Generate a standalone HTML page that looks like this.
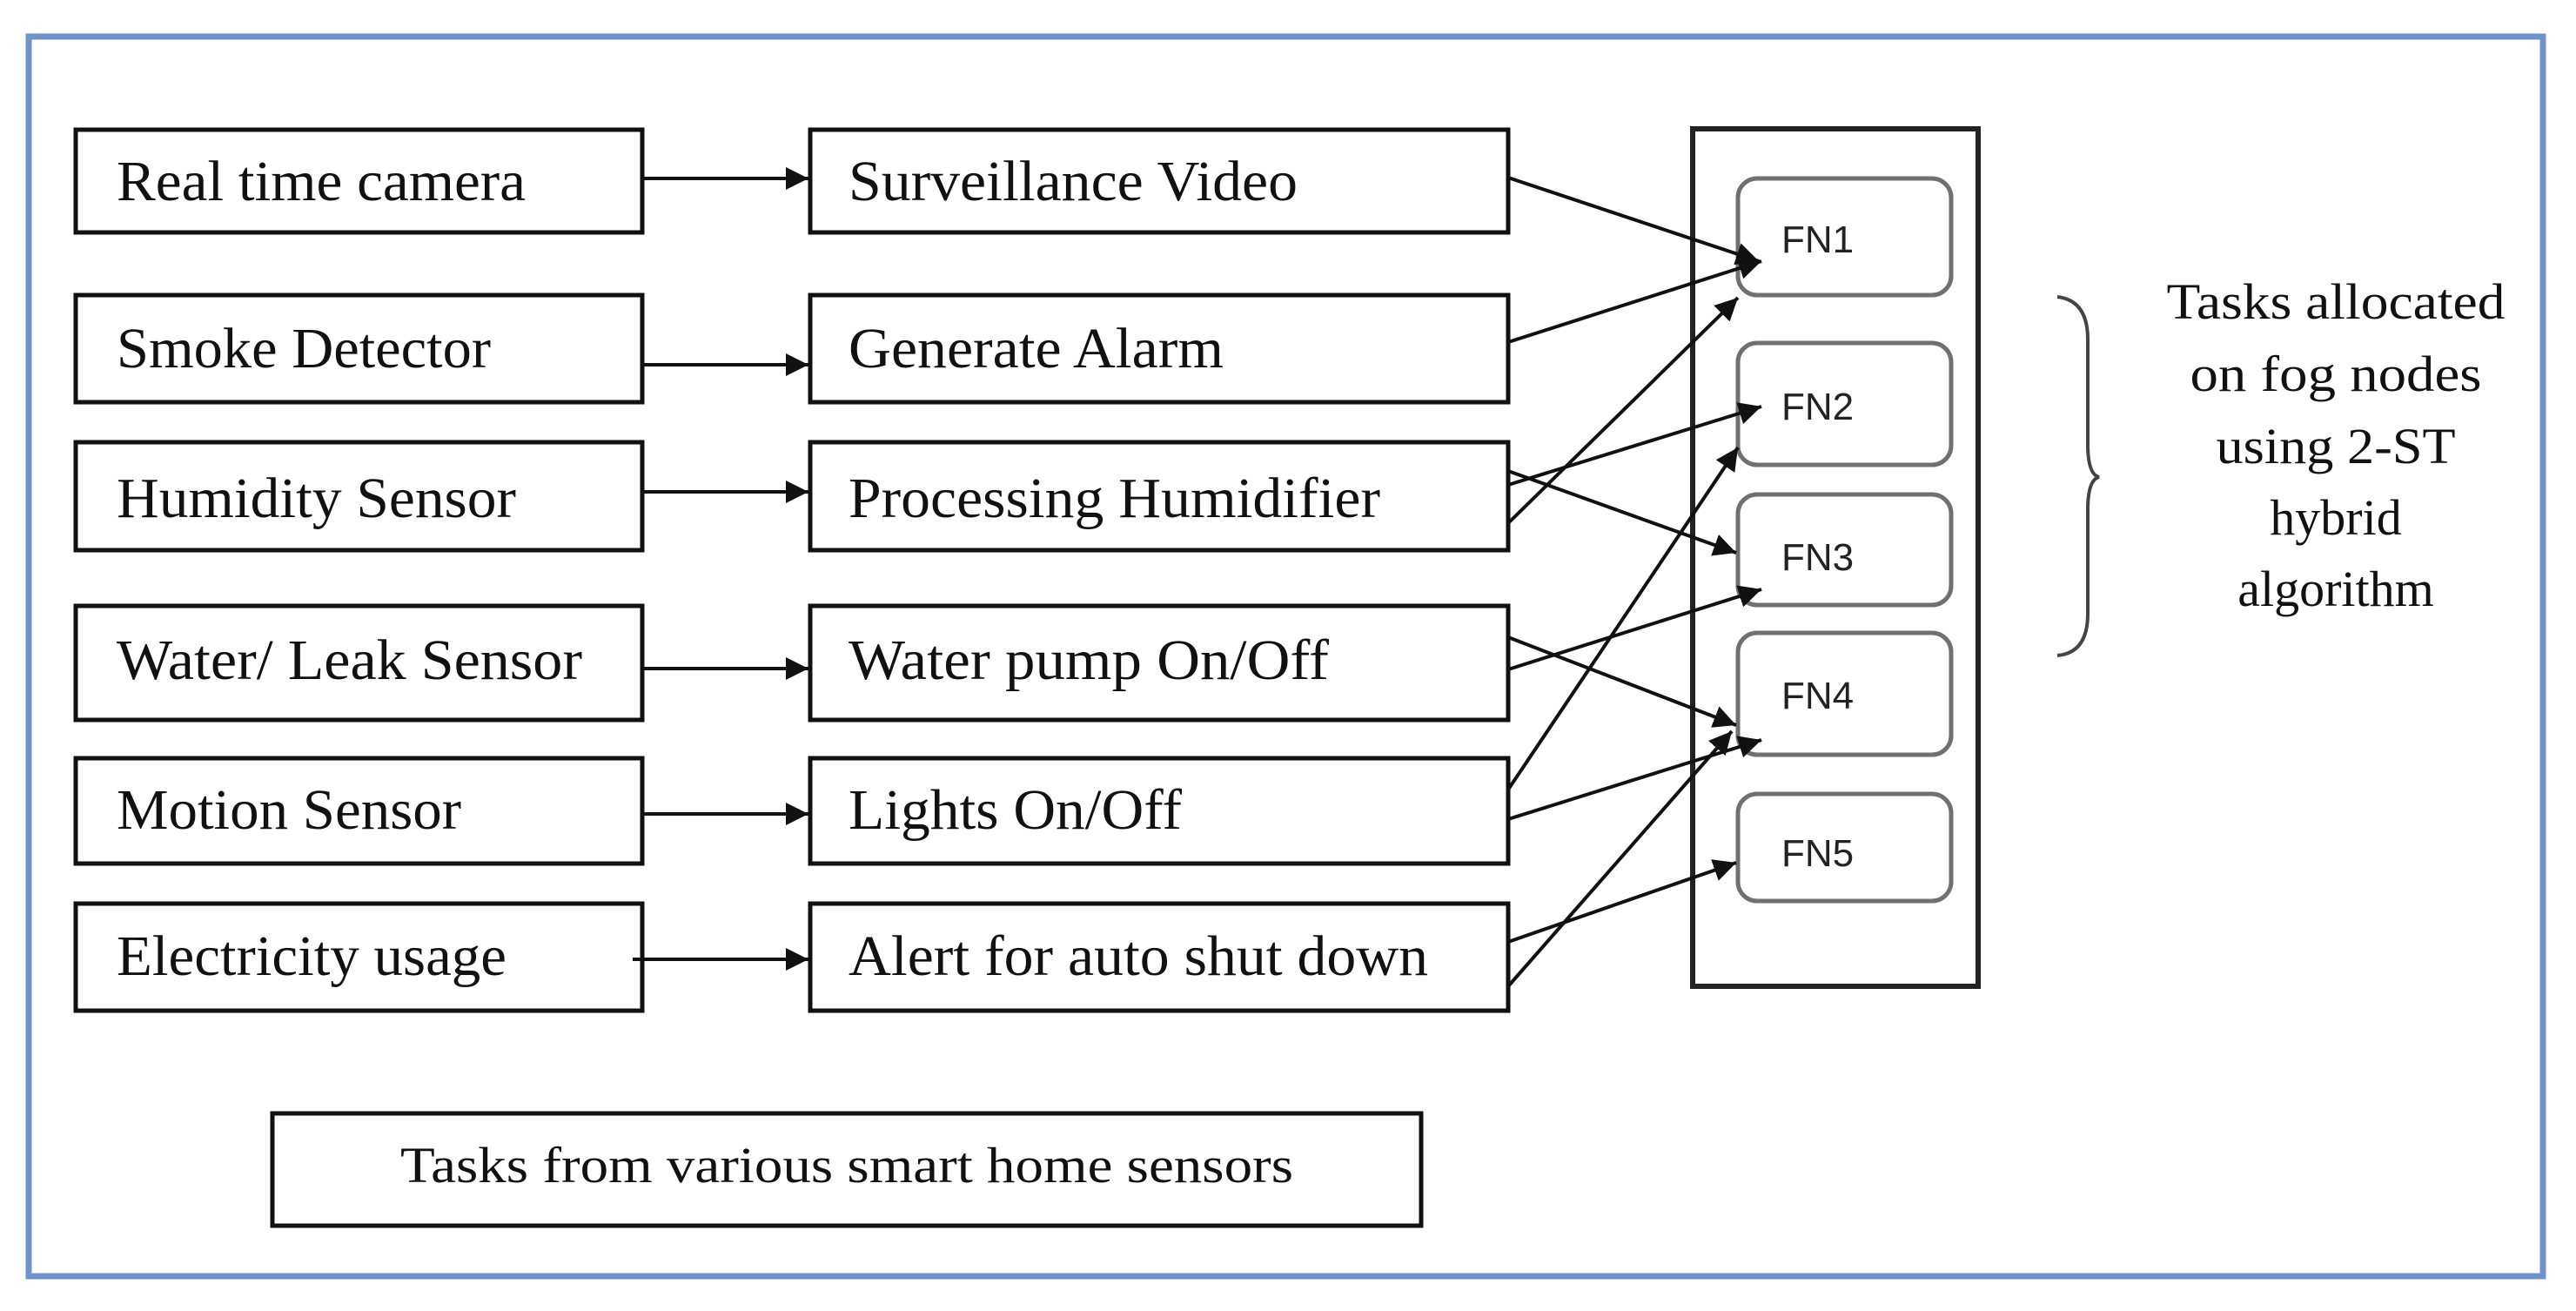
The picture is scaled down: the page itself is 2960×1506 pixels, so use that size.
<!DOCTYPE html>
<html><head><meta charset="utf-8"><style>
html,body{margin:0;padding:0;background:#fff;}
svg{display:block;}
.t{font-family:"Liberation Serif",serif;font-size:66px;fill:#111;}
.f{font-family:"Liberation Sans","DejaVu Sans",sans-serif;font-size:44px;fill:#222;}
.b{fill:#fff;stroke:#111;stroke-width:5;}
.fn{fill:#fff;stroke:#707070;stroke-width:5;}
.c{stroke:#111;stroke-width:4;fill:none;}
</style></head><body>
<svg width="2960" height="1506" viewBox="0 0 2960 1506" xmlns="http://www.w3.org/2000/svg">
<defs>
<marker id="a" viewBox="0 0 10 10" refX="10" refY="5" markerWidth="5" markerHeight="5" orient="auto" markerUnits="userSpaceOnUse" style="overflow:visible">
<path d="M0,0 L10,5 L0,10 z" fill="#111" transform="scale(2.6)" />
</marker>
<marker id="m" viewBox="0 0 26 26" refX="26" refY="13" markerWidth="26" markerHeight="26" orient="auto" markerUnits="userSpaceOnUse">
<path d="M0,0 L26,13 L0,26 z" fill="#111"/>
</marker>
</defs>
<rect x="33" y="42" width="2889" height="1424" fill="#fff" stroke="#6f93c9" stroke-width="7"/>

<!-- left boxes -->
<rect class="b" x="87" y="149" width="651" height="118"/>
<rect class="b" x="87" y="339" width="651" height="123"/>
<rect class="b" x="87" y="508" width="651" height="124"/>
<rect class="b" x="87" y="696" width="651" height="131"/>
<rect class="b" x="87" y="871" width="651" height="121"/>
<rect class="b" x="87" y="1038" width="651" height="123"/>
<!-- middle boxes -->
<rect class="b" x="931" y="149" width="802" height="118"/>
<rect class="b" x="931" y="339" width="802" height="123"/>
<rect class="b" x="931" y="508" width="802" height="124"/>
<rect class="b" x="931" y="696" width="802" height="131"/>
<rect class="b" x="931" y="871" width="802" height="121"/>
<rect class="b" x="931" y="1038" width="802" height="123"/>

<text class="t" x="134" y="230" textLength="470" lengthAdjust="spacingAndGlyphs">Real time camera</text>
<text class="t" x="134" y="422" textLength="430" lengthAdjust="spacingAndGlyphs">Smoke Detector</text>
<text class="t" x="134" y="594" textLength="459" lengthAdjust="spacingAndGlyphs">Humidity Sensor</text>
<text class="t" x="134" y="780" textLength="535" lengthAdjust="spacingAndGlyphs">Water/ Leak Sensor</text>
<text class="t" x="134" y="952" textLength="396" lengthAdjust="spacingAndGlyphs">Motion Sensor</text>
<text class="t" x="134" y="1120" textLength="448" lengthAdjust="spacingAndGlyphs">Electricity usage</text>

<text class="t" x="975" y="230" textLength="516" lengthAdjust="spacingAndGlyphs">Surveillance Video</text>
<text class="t" x="975" y="422" textLength="431" lengthAdjust="spacingAndGlyphs">Generate Alarm</text>
<text class="t" x="975" y="594" textLength="611" lengthAdjust="spacingAndGlyphs">Processing Humidifier</text>
<text class="t" x="975" y="780" textLength="552" lengthAdjust="spacingAndGlyphs">Water pump On/Off</text>
<text class="t" x="975" y="952" textLength="383" lengthAdjust="spacingAndGlyphs">Lights On/Off</text>
<text class="t" x="975" y="1120" textLength="666" lengthAdjust="spacingAndGlyphs">Alert for auto shut down</text>

<!-- horizontal arrows -->
<line class="c" x1="740" y1="205" x2="929" y2="205" marker-end="url(#m)"/>
<line class="c" x1="740" y1="419" x2="929" y2="419" marker-end="url(#m)"/>
<line class="c" x1="740" y1="565" x2="929" y2="565" marker-end="url(#m)"/>
<line class="c" x1="740" y1="768" x2="929" y2="768" marker-end="url(#m)"/>
<line class="c" x1="740" y1="935" x2="929" y2="935" marker-end="url(#m)"/>
<line class="c" x1="727" y1="1102" x2="929" y2="1102" marker-end="url(#m)"/>

<!-- fog container -->
<rect x="1945" y="148" width="328" height="985" fill="#fff" stroke="#222" stroke-width="6"/>
<rect class="fn" x="1997" y="205" width="245" height="134" rx="22"/>
<rect class="fn" x="1997" y="394" width="245" height="140" rx="22"/>
<rect class="fn" x="1997" y="568" width="245" height="127" rx="22"/>
<rect class="fn" x="1997" y="727" width="245" height="140" rx="22"/>
<rect class="fn" x="1997" y="912" width="245" height="123" rx="22"/>
<text class="f" x="2047" y="290">FN1</text>
<text class="f" x="2047" y="482">FN2</text>
<text class="f" x="2047" y="655">FN3</text>
<text class="f" x="2047" y="814">FN4</text>
<text class="f" x="2047" y="995">FN5</text>

<!-- connectors -->
<line class="c" x1="1733" y1="204" x2="2021" y2="300" marker-end="url(#m)"/>
<line class="c" x1="1733" y1="393" x2="2024" y2="300" marker-end="url(#m)"/>
<line class="c" x1="1733" y1="557" x2="2024" y2="467" marker-end="url(#m)"/>
<line class="c" x1="1733" y1="541" x2="1995" y2="635" marker-end="url(#m)"/>
<line class="c" x1="1733" y1="601" x2="1997" y2="342" marker-end="url(#m)"/>
<line class="c" x1="1733" y1="732" x2="1995" y2="833" marker-end="url(#m)"/>
<line class="c" x1="1733" y1="769" x2="2024" y2="677" marker-end="url(#m)"/>
<line class="c" x1="1733" y1="907" x2="1997" y2="514" marker-end="url(#m)"/>
<line class="c" x1="1733" y1="941" x2="2024" y2="850" marker-end="url(#m)"/>
<line class="c" x1="1733" y1="1082" x2="1995" y2="991" marker-end="url(#m)"/>
<line class="c" x1="1733" y1="1133" x2="1990" y2="840" marker-end="url(#m)"/>

<!-- brace -->
<path d="M2364,341 Q2399,345 2399,390 L2399,510 Q2399,545 2412,548 Q2399,551 2399,586 L2399,705 Q2399,750 2364,753" fill="none" stroke="#444" stroke-width="4"/>
<g class="t" style="font-size:58px" text-anchor="middle">
<text x="2684" y="366" textLength="389" lengthAdjust="spacingAndGlyphs">Tasks allocated</text>
<text x="2684" y="449" textLength="335" lengthAdjust="spacingAndGlyphs">on fog nodes</text>
<text x="2684" y="532" textLength="275" lengthAdjust="spacingAndGlyphs">using 2-ST</text>
<text x="2684" y="614">hybrid</text>
<text x="2684" y="696">algorithm</text>
</g>

<rect class="b" x="313" y="1279" width="1320" height="129"/>
<text class="t" x="973" y="1358" text-anchor="middle" style="font-size:58px" textLength="1026" lengthAdjust="spacingAndGlyphs">Tasks from various smart home sensors</text>
</svg>
</body></html>
